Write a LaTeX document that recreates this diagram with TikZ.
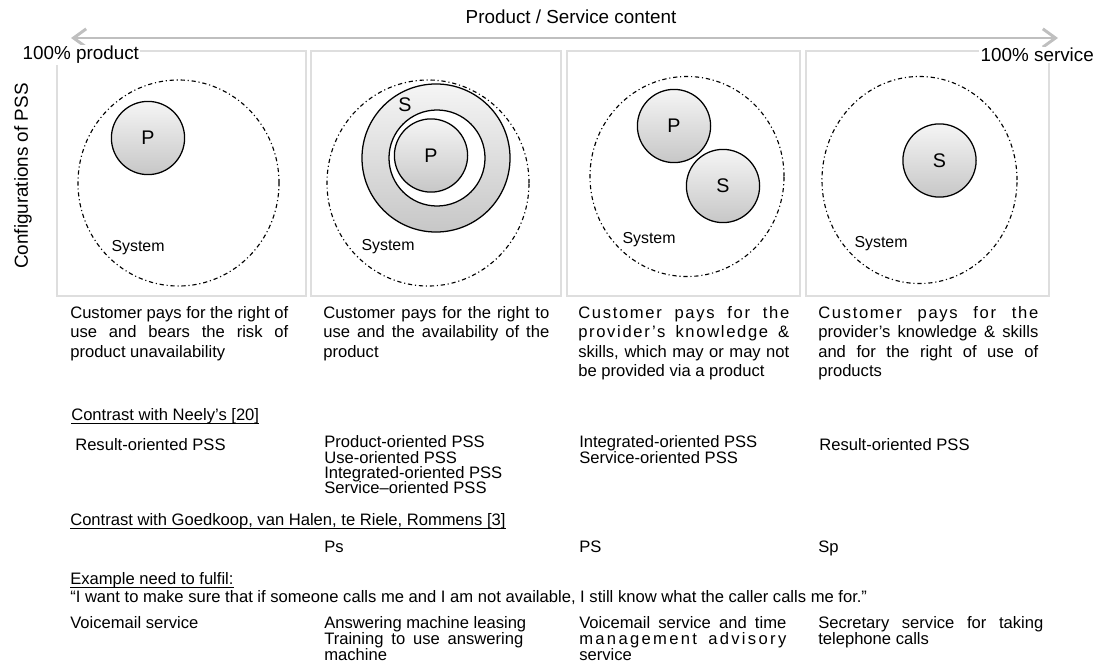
\documentclass[tikz,border=0pt]{standalone}
\usepackage{fontspec}
\setmainfont{Liberation Sans}
\usetikzlibrary{arrows.meta,shapes.geometric}
\newcommand{\jline}[2]{\makebox[#1][s]{#2}}
\newcommand{\lsline}[3][10]{\makebox[#2][s]{\addfontfeature{LetterSpace=#1}#3}}
\newcommand{\tightlines}{\lineskiplimit=-100pt\relax}
\newsavebox{\ulbox}
\newcommand{\ulined}[1]{\sbox{\ulbox}{#1}\rlap{\rule[-2.5pt]{\wd\ulbox}{0.9pt}}\usebox{\ulbox}}

\begin{document}
\begin{tikzpicture}[
  x=0.025cm, y=-0.025cm,
  panel/.style={draw=black!13, line width=1.6pt},
  sysring/.style={
    draw,
    ellipse,
    line width=0.8pt,
    dash pattern=on 3pt off 2pt on 0.8pt off 2pt,
    inner sep=0pt
    },
  ball/.style={
    draw,
    circle,
    line width=0.9pt,
    top color=black!4,
    bottom color=black!22,
    minimum size=#1,
    inner sep=0pt,
    font=\fontsize{14}{16}\selectfont
    },
  ball/.default=1.83cm,
  head/.style={inner sep=0pt, font=\fontsize{13.4}{16}\selectfont},
  body/.style={inner sep=0pt, font=\fontsize{11.8}{13.9}\selectfont, align=left},
  list/.style={inner sep=0pt, font=\fontsize{11.8}{#1}\selectfont\tightlines, align=left},
  list/.default=10.9pt,
  syslabel/.style={inner sep=0pt, font=\fontsize{11.3}{13}\selectfont}
]
\useasboundingbox (0,0) rectangle (1096,664);

\coordinate (left end) at (71,38);
\coordinate (right end) at (1058,38);
\draw[black!25, line width=2.1pt,
  {Straight Barb[length=9pt,width=13pt]}-{Straight Barb[length=9pt,width=13pt]}]
  (left end) -- (right end);

\foreach \xa/\xb in {57/306, 311/561, 567/800, 806/1049}
\draw[panel] (\xa,51) rectangle (\xb,296);

\node[head] (content) at (571,17) {Product / Service content};
\node[head, anchor=west, fill=white, inner sep=1pt] (full product) at (21,55) {100\% product};
\node[head, anchor=west, fill=white, inner sep=1pt] (full service) at (979,55) {100\% service};
\node[head, rotate=90] (config) at (23,176) {Configurations of PSS};

\node[sysring, minimum width=5.025cm, minimum height=5.15cm] (sys1) at (178.5,183) {};
\node[sysring, minimum width=5.05cm, minimum height=5.15cm] (sys2) at (428,183) {};
\node[sysring, minimum width=4.85cm, minimum height=5cm] (sys3) at (687,176.5) {};
\node[sysring, minimum width=4.875cm, minimum height=5.175cm] (sys4) at (919.5,180) {};

\node[ball] (p1) at (148,138) {P};
\node[ball=3.7cm] (s2) at (436,158) {};
\node[draw, circle, fill=white, line width=0.9pt, minimum size=2.4cm] (gap2) at (437,158) {};
\node[ball] (p2) at (431,155.5) {P};
\node[inner sep=0pt, font=\fontsize{14}{16}\selectfont] (s2 label) at (405,105) {S};
\node[ball] (p3) at (674,126) {P};
\node[ball] (s3) at (723,186) {S};
\node[ball] (s4) at (939.5,160.5) {S};

\foreach \cx/\cy [count=\i] in {138/248, 388/247, 649/240, 881/244}
\node[syslabel] (system\i) at (\cx,\cy) {System};

\node[body, anchor=north west] (pay1) at (70,306) {
  \jline{5.45cm}{Customer pays for the right of}\\
  \jline{5.45cm}{use and bears the risk of}\\
  product unavailability};
\node[body, anchor=north west] (pay2) at (323,306) {
  \jline{5.65cm}{Customer pays for the right to}\\
  \jline{5.65cm}{use and the availability of the}\\
  product};
\node[body, anchor=north west] (pay3) at (578,306) {
  \lsline{5.275cm}{Customer pays for the}\\
  \lsline{5.275cm}{provider’s knowledge \&}\\
  \jline{5.275cm}{skills, which may or may not}\\
  be provided via a product};
\node[body, anchor=north west] (pay4) at (818,306) {
  \lsline{5.5cm}{Customer pays for the}\\
  \jline{5.5cm}{provider’s knowledge \& skills}\\
  \jline{5.5cm}{and for the right of use of}\\
  products};

\node[body, anchor=base west] (neely) at (71,420.5) {\ulined{Contrast with Neely’s [20]}};
\node[body, anchor=base west] (neely1) at (75,450.5) {Result-oriented PSS};
\node[list, anchor=north west] (neely2) at (324,435.5) {
  Product-oriented PSS\\
  Use-oriented PSS\\
  Integrated-oriented PSS\\
  Service–oriented PSS};
\node[list, anchor=north west] (neely3) at (579,435.5) {
  Integrated-oriented PSS\\
  Service-oriented PSS};
\node[body, anchor=base west] (neely4) at (819,450.5) {Result-oriented PSS};

\node[body, anchor=base west] (goedkoop) at (70,525.5)
  {\ulined{Contrast with Goedkoop, van Halen, te Riele, Rommens [3]}};
\foreach \cx/\txt [count=\i from 2] in {324/Ps, 579/PS, 818/Sp}
\node[body, anchor=base west] (goedkoop\i) at (\cx,552.5) {\txt};

\node[body, anchor=base west] (need) at (70,584.5) {\ulined{Example need to fulfil:}};
\node[body, anchor=base west] (quote) at (70,602.5)
  {“I want to make sure that if someone calls me and I am not available, I still know what the caller calls me for.”};
\node[body, anchor=base west] (example1) at (70,628.5) {Voicemail service};
\node[list=11.4pt, anchor=north west] (example2) at (324,616.5) {
  Answering machine leasing\\
  \jline{4.975cm}{Training to use answering}\\
  machine};
\node[list=11.4pt, anchor=north west] (example3) at (579,616.5) {
  \jline{5.175cm}{Voicemail service and time}\\
  \lsline[14]{5.175cm}{management advisory}\\
  service};
\node[list=11.4pt, anchor=north west] (example4) at (818,616.5) {
  \jline{5.625cm}{Secretary service for taking}\\
  telephone calls};

\end{tikzpicture}
\end{document}
